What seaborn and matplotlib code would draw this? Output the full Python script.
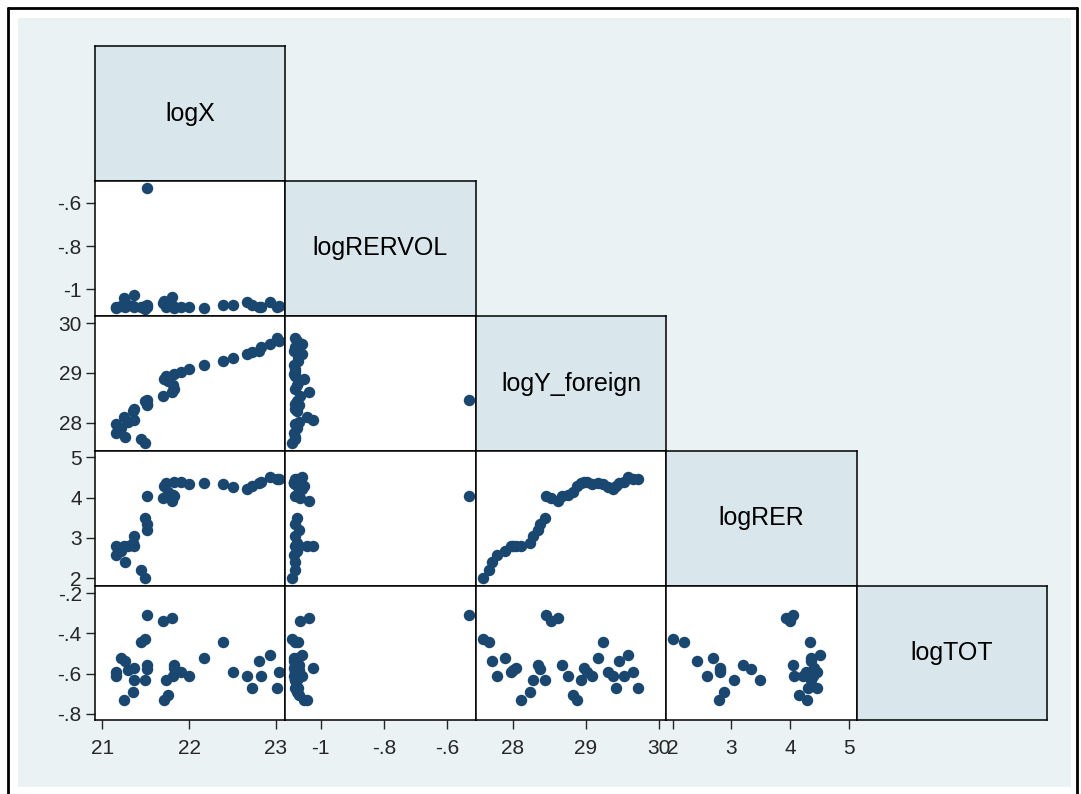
"""Lower-triangle scatter matrix of the trade model variables (Stata look)."""

import matplotlib

matplotlib.use("Agg")

import matplotlib.pyplot as plt
import numpy as np
import pandas as pd
import seaborn as sns
from matplotlib.lines import Line2D
from matplotlib.patches import Rectangle


VARIABLES = ["logX", "logRERVOL", "logY_foreign", "logRER", "logTOT"]

log_x = [21.49, 21.45, 21.26, 21.16, 21.22, 21.16, 21.30, 21.36, 21.25, 21.35,
         21.37, 21.51, 21.51, 21.49, 21.52, 21.70, 21.80, 21.82, 21.81, 21.76,
         21.71, 21.73, 21.82, 21.91, 22.00, 22.17, 22.39, 22.50, 22.67, 22.72,
         22.81, 22.83, 22.93, 23.03, 23.01]
log_rervol = [-1.09, -1.08, -1.08, -1.085, -1.075, -1.08, -1.07, -1.026, -1.042, -1.075,
              -1.08, -1.07, -1.08, -1.075, -0.53, -1.065, -1.037, -1.08, -1.075, -1.07,
              -1.053, -1.08, -1.085, -1.08, -1.08, -1.085, -1.073, -1.073, -1.06, -1.073,
              -1.083, -1.08, -1.06, -1.075, -1.08]
log_y_foreign = [27.59, 27.68, 27.72, 27.79, 27.89, 27.97, 28.01, 28.05, 28.11, 28.23,
                 28.28, 28.35, 28.38, 28.44, 28.46, 28.53, 28.62, 28.68, 28.76, 28.83,
                 28.88, 28.94, 28.97, 29.02, 29.09, 29.17, 29.24, 29.31, 29.38, 29.42,
                 29.45, 29.52, 29.58, 29.65, 29.71]
log_rer = [2.00, 2.20, 2.41, 2.59, 2.68, 2.80, 2.81, 2.81, 2.79, 2.87,
           3.05, 3.20, 3.34, 3.49, 4.05, 4.00, 3.92, 4.05, 4.07, 4.15,
           4.28, 4.36, 4.40, 4.40, 4.33, 4.36, 4.33, 4.27, 4.21, 4.30,
           4.36, 4.38, 4.50, 4.45, 4.45]
log_tot = [-0.429, -0.442, -0.538, -0.613, -0.522, -0.591, -0.582, -0.573, -0.731, -0.690,
           -0.631, -0.557, -0.575, -0.630, -0.308, -0.336, -0.321, -0.558, -0.613, -0.706,
           -0.731, -0.630, -0.572, -0.589, -0.611, -0.522, -0.440, -0.591, -0.611, -0.670,
           -0.537, -0.613, -0.508, -0.591, -0.670]

TICKS = {
    "logX": [21, 22, 23],
    "logRERVOL": [-1, -0.8, -0.6],
    "logY_foreign": [28, 29, 30],
    "logRER": [2, 3, 4, 5],
    "logTOT": [-0.8, -0.6, -0.4, -0.2],
}
TICK_LABELS = {
    "logX": ["21", "22", "23"],
    "logRERVOL": ["-1", "-.8", "-.6"],
    "logY_foreign": ["28", "29", "30"],
    "logRER": ["2", "3", "4", "5"],
    "logTOT": ["-.8", "-.6", "-.4", "-.2"],
}
DIAG_LABELS = ["logX", "logRERVOL", "logY_foreign", "logRER", "logTOT"]

# axis ranges as drawn (column = x variable, row = y variable)
XLIM = {
    "logX": (20.916, 23.104),
    "logRERVOL": (-1.113, -0.509),
    "logY_foreign": (27.497, 30.10),
    "logRER": (1.886, 5.136),
}
YLIM = {
    "logRERVOL": (-1.123, -0.50),
    "logY_foreign": (27.43, 30.147),
    "logRER": (1.81, 5.156),
    "logTOT": (-0.83, -0.164),
}

W, H = 1081, 794
COL_EDGES = [95, 285, 476, 666, 857, 1047]
ROW_EDGES = [46, 181, 316, 451, 586, 720]

NAVY = "#1A476F"
BG = "#EAF2F3"
DIAG_FILL = "#D9E6EC"

df = pd.DataFrame({
    "logX": log_x,
    "logRERVOL": log_rervol,
    "logY_foreign": log_y_foreign,
    "logRER": log_rer,
    "logTOT": log_tot,
})

sns.set_theme(style="white")
plt.rcParams["font.family"] = ["Liberation Sans", "DejaVu Sans"]

fig = plt.figure(figsize=(W / 100, H / 100), dpi=100, facecolor="white")

# Stata-style outer region: light plot region inside a black frame
fig.patches.append(Rectangle((18 / W, 1 - 787 / H), (1071 - 18) / W, (787 - 18) / H,
                             transform=fig.transFigure, facecolor=BG, edgecolor="none", zorder=-5))
for xs, ys in [((8, 8), (8, 800)), ((8, 1077), (8, 8)), ((1077, 1077), (8, 800))]:
    fig.lines.append(Line2D([x / W for x in xs], [1 - y / H for y in ys],
                            transform=fig.transFigure, color="black", lw=2.0, zorder=5))


def panel_axes(row, col):
    x0, x1 = COL_EDGES[col], COL_EDGES[col + 1]
    y0, y1 = ROW_EDGES[row], ROW_EDGES[row + 1]
    return fig.add_axes([x0 / W, 1 - y1 / H, (x1 - x0) / W, (y1 - y0) / H])


n = len(VARIABLES)
for i in range(n):
    for j in range(i + 1):
        ax = panel_axes(i, j)
        for side in ax.spines.values():
            side.set_color("black")
            side.set_linewidth(1.1)
        if i == j:
            ax.set_facecolor(DIAG_FILL)
            ax.text(0.5, 0.5, DIAG_LABELS[i], ha="center", va="center",
                    fontsize=18, color="black", transform=ax.transAxes)
            ax.set_xticks([])
            ax.set_yticks([])
            continue
        xv, yv = VARIABLES[j], VARIABLES[i]
        ax.set_facecolor("white")
        sns.scatterplot(data=df, x=xv, y=yv, ax=ax, color=NAVY, s=68,
                        linewidth=0, legend=False, zorder=3, clip_on=False)
        ax.set_xlim(*XLIM[xv])
        ax.set_ylim(*YLIM[yv])
        ax.set_xlabel("")
        ax.set_ylabel("")
        if j == 0:
            ax.set_yticks(TICKS[yv])
            ax.set_yticklabels(TICK_LABELS[yv])
            ax.tick_params(axis="y", direction="out", length=6.5, width=1,
                           pad=3, labelsize=15, left=True)
        else:
            ax.set_yticks([])
        if i == n - 1:
            ax.set_xticks(TICKS[xv])
            ax.set_xticklabels(TICK_LABELS[xv])
            ax.tick_params(axis="x", direction="out", length=6.5, width=1,
                           pad=7, labelsize=15, bottom=True)
        else:
            ax.set_xticks([])

fig.savefig("out.png", dpi=100, facecolor="white")
